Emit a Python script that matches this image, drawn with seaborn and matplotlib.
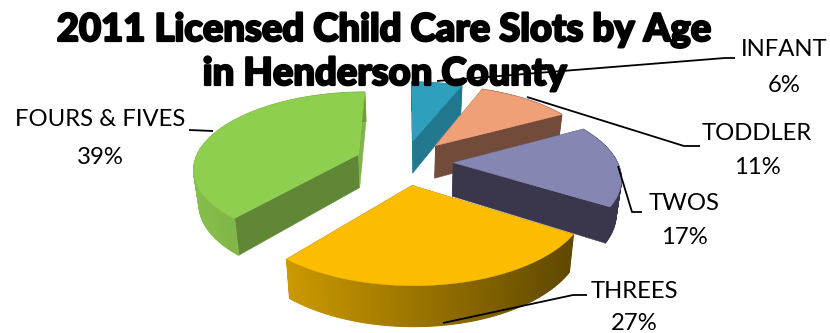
import numpy as np
import matplotlib
matplotlib.use('Agg')
import matplotlib.pyplot as plt
import matplotlib.patheffects as pe
import seaborn as sns

# ─── Data ────────────────────────────────────────────────────────────────────
ages = ['INFANT', 'TODDLER', 'TWOS', 'THREES', 'FOURS & FIVES']
shares = [6, 11, 17, 27, 39]

title_lines = ['2011 Licensed Child Care Slots by Age', 'in Henderson County']

# ─── Style ───────────────────────────────────────────────────────────────────
top_colors = ['#2EA0BE', '#F0A076', '#8587B2', '#FCBC00', '#8FCF50']
cut_colors = ['#21788F', '#734B3A', '#3A364C', '#8A6800', '#5F8735']
end_cut_colors = ['#21788F', '#734B3A', '#3A364C', '#8A6800', '#7FB548']
# outer wall shading, left end and right end
wall_colors = [('#21788F', '#21788F'), ('#734B3A', '#734B3A'), ('#3A364C', '#3A364C'),
               ('#CC9900', '#5F4800'), ('#86BE4B', '#6E9B3C')]
draw_order = [0, 1, 2, 4, 3]

CENTER = (404, 162)
RX, RY = 164, 75
PERSP = 0.165
EXPLODE = 0.30
DEPTH = 34

LABEL_FONT = 'Lato'
label_spots = [(784, 50, 85), (757, 134, 168), (684, 204, 237), (634, 291, 324), (100, 120, 157)]
leaders = [
    [(437, 81), (725, 58), (735, 58)],
    [(527, 97), (684, 146), (700, 146)],
    [(618, 166), (632, 212), (642, 212)],
    [(443, 323), (573, 295), (587, 295)],
    [(189, 130), (213, 131)],
]


def project(px, py):
    """Pie plane to picture coordinates, the back of the pie comes out smaller."""
    s = 1 / (1 + PERSP * py)
    return CENTER[0] + RX * px * s, CENTER[1] - RY * py * s


def lower(x, y):
    """Same point on the underside of the slab."""
    return 410 + (x - 410) * 0.975, 170 + (y - 170) * 1.06 + DEPTH


def draw_slice(ax, start, stop, idx):
    mid = np.radians((start + stop) / 2)
    ox, oy = EXPLODE * np.sin(mid), EXPLODE * np.cos(mid)
    theta = np.radians(np.arange(start, stop + 1.0, 1.0))
    theta[-1] = np.radians(stop)
    ax_x, ax_y = project(ox, oy)
    arc_x, arc_y = project(ox + np.sin(theta), oy + np.cos(theta))
    low_x, low_y = lower(arc_x, arc_y)
    apex_lx, apex_ly = lower(ax_x, ax_y)

    # cut faces
    for i, face in ((0, cut_colors[idx]), (-1, end_cut_colors[idx])):
        ax.fill([ax_x, arc_x[i], low_x[i], apex_lx], [ax_y, arc_y[i], low_y[i], apex_ly],
                color=face, lw=0.3, zorder=2)

    # outer wall, shaded left to right
    left = np.array(matplotlib.colors.to_rgb(wall_colors[idx][0]))
    right = np.array(matplotlib.colors.to_rgb(wall_colors[idx][1]))
    span = max(arc_x.max() - arc_x.min(), 1)
    for j in range(len(theta) - 1):
        t = ((arc_x[j] + arc_x[j + 1]) / 2 - arc_x.min()) / span
        c = left + (right - left) * t
        ax.fill([arc_x[j], arc_x[j + 1], low_x[j + 1], low_x[j]],
                [arc_y[j], arc_y[j + 1], low_y[j + 1], low_y[j]],
                color=c, lw=0.8, zorder=2)

    # top face
    ax.fill(np.r_[ax_x, arc_x], np.r_[ax_y, arc_y], color=top_colors[idx], lw=0.3, zorder=2)


sns.set_theme(style='white')
plt.rcParams['font.family'] = [LABEL_FONT, 'DejaVu Sans']

fig = plt.figure(figsize=(8.3, 3.33), dpi=100)
ax = fig.add_axes([0, 0, 1, 1])
ax.set_xlim(0, 830)
ax.set_ylim(333, 0)
ax.axis('off')

edges = np.r_[0, np.cumsum(shares)] / np.sum(shares) * 360
for idx in draw_order:
    draw_slice(ax, edges[idx], edges[idx + 1], idx)

# ─── Title ───────────────────────────────────────────────────────────────────
for line, y in zip(title_lines, (41, 85)):
    txt = ax.text(385, y, line, ha='center', va='baseline', fontsize=27.5, fontweight=900,
                  family=['Lato', 'DejaVu Sans'], color='black', zorder=3)
    txt.set_path_effects([pe.withStroke(linewidth=1.6, foreground='black')])

# ─── Labels and leader lines ─────────────────────────────────────────────────
for age, share, (x, y1, y2), pts in zip(ages, shares, label_spots, leaders):
    ax.text(x, y1, age, ha='center', va='center', fontsize=17.2, color='black', zorder=5)
    ax.text(x, y2, f'{share}%', ha='center', va='center', fontsize=17.2, color='black', zorder=5)
    xs, ys = zip(*pts)
    ax.plot(xs, ys, color='black', lw=1.3, zorder=4, solid_capstyle='butt')

fig.savefig('out.png', dpi=100)
plt.close(fig)
